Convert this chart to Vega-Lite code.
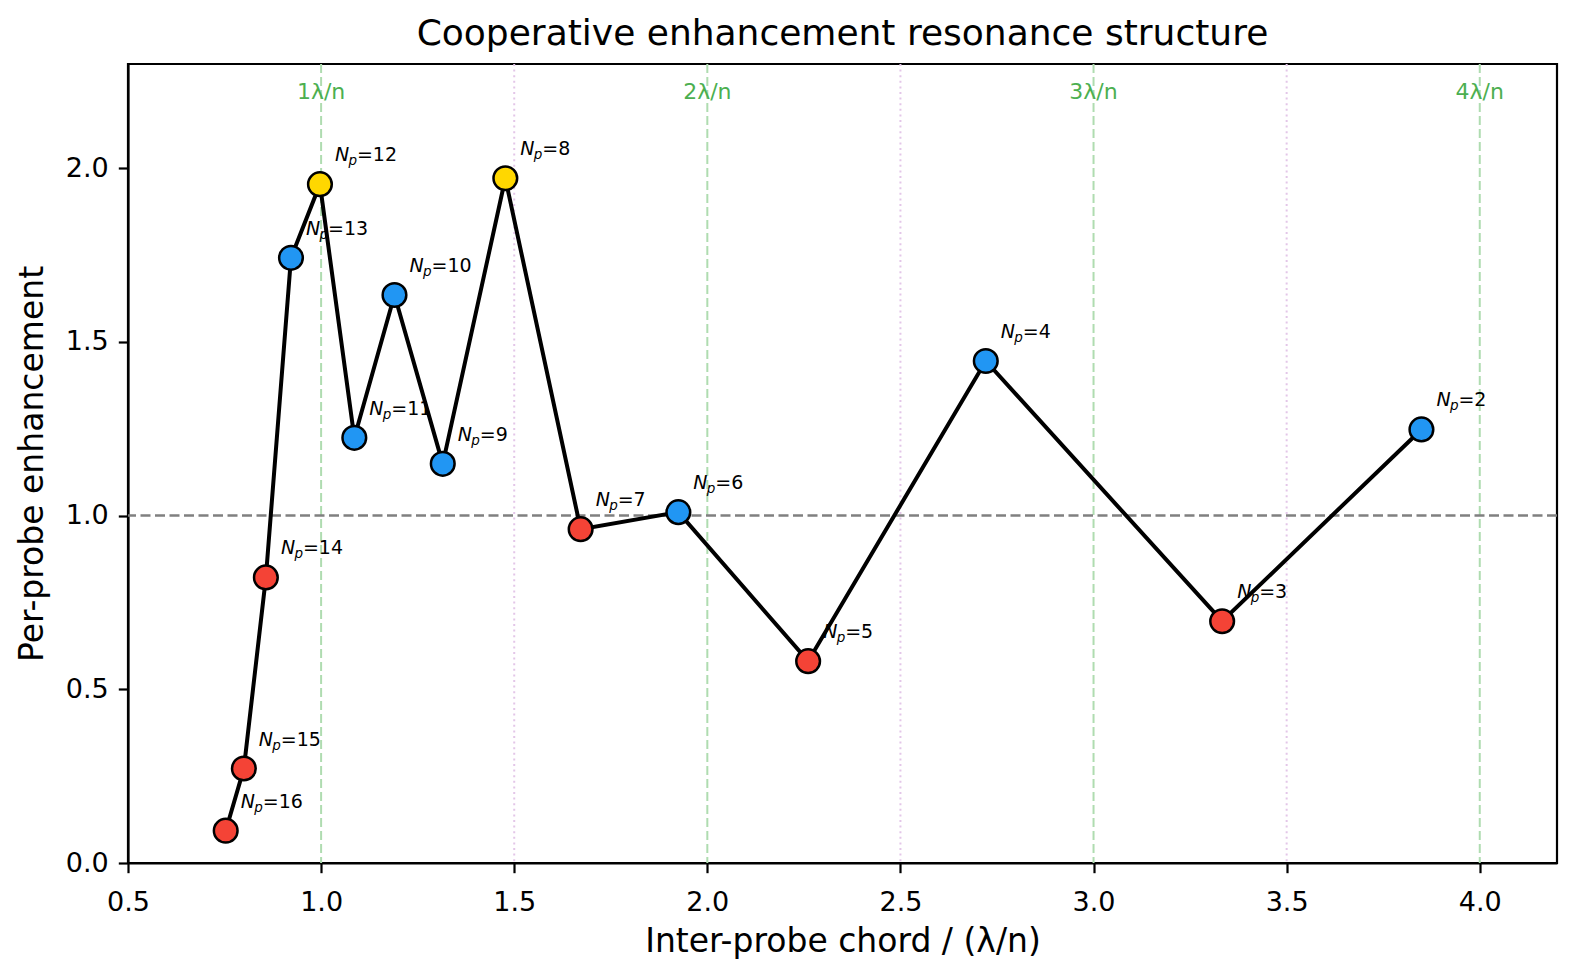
{
  "$schema": "https://vega.github.io/schema/vega-lite/v6.json",
  "autosize": "none",
  "padding": {"left": 128, "top": 64, "right": 20, "bottom": 113},
  "width": 1429,
  "height": 799,
  "background": "white",
  "title": {
    "text": "Cooperative enhancement resonance structure",
    "fontSize": 36,
    "fontWeight": "normal",
    "anchor": "middle",
    "baseline": "bottom",
    "frame": "group",
    "offset": 8,
    "dy": 34,
    "color": "black"
  },
  "datasets": {
    "pts": [
      {"np": 16, "lab": "=16", "chord": 0.753, "enh": 0.093, "cls": "below"},
      {"np": 15, "lab": "=15", "chord": 0.800, "enh": 0.272, "cls": "below"},
      {"np": 14, "lab": "=14", "chord": 0.857, "enh": 0.822, "cls": "below"},
      {"np": 13, "lab": "=13", "chord": 0.922, "enh": 1.742, "cls": "above"},
      {"np": 12, "lab": "=12", "chord": 0.997, "enh": 1.954, "cls": "peak"},
      {"np": 11, "lab": "=11", "chord": 1.086, "enh": 1.224, "cls": "above"},
      {"np": 10, "lab": "=10", "chord": 1.190, "enh": 1.635, "cls": "above"},
      {"np": 9, "lab": "=9", "chord": 1.315, "enh": 1.149, "cls": "above"},
      {"np": 8, "lab": "=8", "chord": 1.477, "enh": 1.971, "cls": "peak"},
      {"np": 7, "lab": "=7", "chord": 1.672, "enh": 0.961, "cls": "below"},
      {"np": 6, "lab": "=6", "chord": 1.925, "enh": 1.010, "cls": "above"},
      {"np": 5, "lab": "=5", "chord": 2.261, "enh": 0.581, "cls": "below"},
      {"np": 4, "lab": "=4", "chord": 2.721, "enh": 1.445, "cls": "above"},
      {"np": 3, "lab": "=3", "chord": 3.333, "enh": 0.696, "cls": "below"},
      {"np": 2, "lab": "=2", "chord": 3.849, "enh": 1.248, "cls": "above"}
    ],
    "refs": [
      {"chord": 1, "kind": "int", "label": "1λ/n"},
      {"chord": 2, "kind": "int", "label": "2λ/n"},
      {"chord": 3, "kind": "int", "label": "3λ/n"},
      {"chord": 4, "kind": "int", "label": "4λ/n"},
      {"chord": 1.5, "kind": "half", "label": ""},
      {"chord": 2.5, "kind": "half", "label": ""},
      {"chord": 3.5, "kind": "half", "label": ""}
    ]
  },
  "layer": [
    {
      "data": {"name": "refs"},
      "transform": [{"filter": "datum.kind == 'half'"}],
      "mark": {"type": "rule", "color": "#e3c6e8", "strokeWidth": 2, "strokeDash": [2, 3.6]},
      "encoding": {
        "x": {"field": "chord", "type": "quantitative", "scale": {"domain": [0.5, 4.2], "nice": false, "zero": false}}
      }
    },
    {
      "data": {"name": "refs"},
      "transform": [{"filter": "datum.kind == 'int'"}],
      "mark": {"type": "rule", "color": "#afdcb0", "strokeWidth": 2, "strokeDash": [9, 4]},
      "encoding": {
        "x": {"field": "chord", "type": "quantitative"}
      }
    },
    {
      "data": {"values": [{}]},
      "mark": {"type": "rule", "color": "#808080", "strokeWidth": 2.5, "strokeDash": [10, 4.5]},
      "encoding": {
        "y": {"datum": 1, "type": "quantitative"}
      }
    },
    {
      "data": {"name": "refs"},
      "transform": [{"filter": "datum.kind == 'int'"}],
      "mark": {"type": "text", "color": "#4caf50", "fontSize": 22, "align": "center", "baseline": "alphabetic"},
      "encoding": {
        "x": {"field": "chord", "type": "quantitative"},
        "y": {"datum": 2.2, "type": "quantitative"},
        "text": {"field": "label"}
      }
    },
    {
      "data": {"name": "pts"},
      "mark": {"type": "line", "color": "black", "strokeWidth": 4},
      "encoding": {
        "x": {
          "field": "chord",
          "type": "quantitative",
          "title": "Inter-probe chord / (λ/n)",
          "scale": {"domain": [0.5, 4.2], "nice": false, "zero": false},
          "axis": {"values": [0.5, 1, 1.5, 2, 2.5, 3, 3.5, 4], "format": ".1f"}
        },
        "y": {
          "field": "enh",
          "type": "quantitative",
          "title": "Per-probe enhancement",
          "scale": {"domain": [0, 2.3], "nice": false},
          "axis": {"values": [0, 0.5, 1, 1.5, 2], "format": ".1f"}
        }
      }
    },
    {
      "data": {"name": "pts"},
      "mark": {"type": "circle", "size": 560, "stroke": "black", "strokeWidth": 2.5, "opacity": 1},
      "encoding": {
        "x": {"field": "chord", "type": "quantitative"},
        "y": {"field": "enh", "type": "quantitative"},
        "fill": {
          "field": "cls",
          "type": "nominal",
          "scale": {"domain": ["below", "above", "peak"], "range": ["#f44336", "#2196f3", "#ffd700"]},
          "legend": null
        }
      }
    },
    {
      "data": {"name": "pts"},
      "mark": {"type": "text", "text": "N", "fontStyle": "italic", "fontSize": 19, "align": "left", "baseline": "alphabetic", "dx": 15, "dy": -23, "color": "black"},
      "encoding": {
        "x": {"field": "chord", "type": "quantitative"},
        "y": {"field": "enh", "type": "quantitative"}
      }
    },
    {
      "data": {"name": "pts"},
      "mark": {"type": "text", "text": "p", "fontStyle": "italic", "fontSize": 13.5, "align": "left", "baseline": "alphabetic", "dx": 28.5, "dy": -19, "color": "black"},
      "encoding": {
        "x": {"field": "chord", "type": "quantitative"},
        "y": {"field": "enh", "type": "quantitative"}
      }
    },
    {
      "data": {"name": "pts"},
      "mark": {"type": "text", "fontSize": 19, "align": "left", "baseline": "alphabetic", "dx": 37, "dy": -23, "color": "black"},
      "encoding": {
        "x": {"field": "chord", "type": "quantitative"},
        "y": {"field": "enh", "type": "quantitative"},
        "text": {"field": "lab", "type": "nominal"}
      }
    }
  ],
  "config": {
    "font": "DejaVu Sans",
    "view": {"stroke": "black", "strokeWidth": 2.2},
    "axis": {
      "grid": false,
      "labelFlush": false,
      "domainColor": "black",
      "domainWidth": 2.2,
      "tickColor": "black",
      "tickWidth": 2.2,
      "tickSize": 9.7,
      "labelFontSize": 27,
      "labelColor": "black",
      "titleFontSize": 33,
      "titleFontWeight": "normal",
      "titleColor": "black"
    },
    "axisX": {"labelPadding": 17, "titlePadding": 10},
    "axisY": {"labelPadding": 10, "titlePadding": 16}
  }
}
